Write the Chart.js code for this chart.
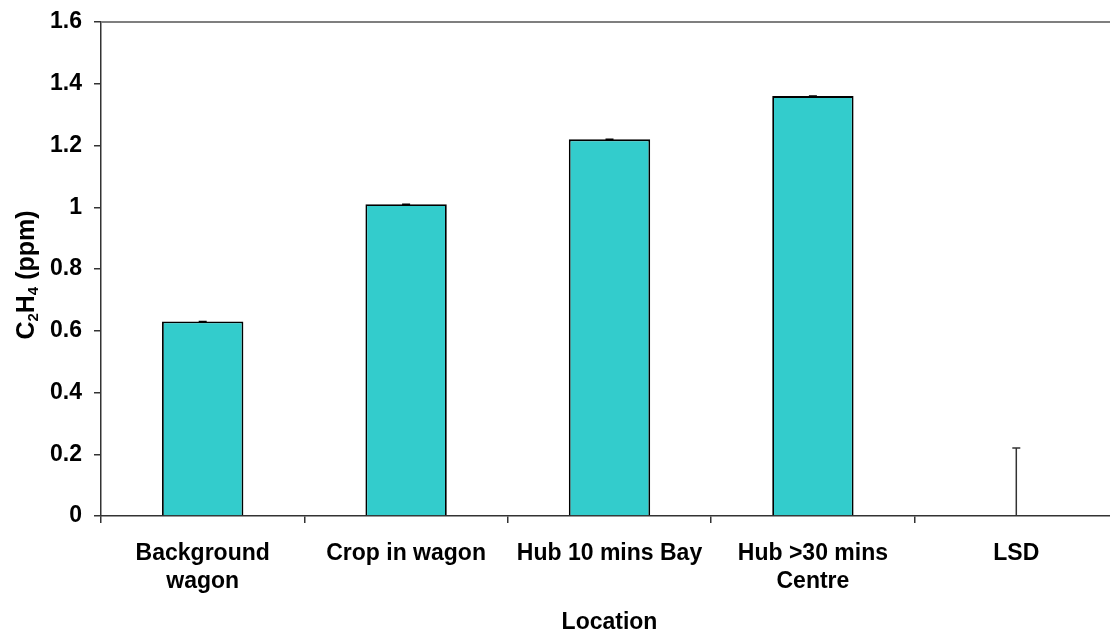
<!DOCTYPE html>
<html>
<head>
<meta charset="utf-8">
<script src="https://cdn.jsdelivr.net/npm/chart.js@4/dist/chart.umd.min.js"></script>
<style>
  html, body { margin: 0; padding: 0; background: #fff; overflow: hidden; }
  #wrap { width: 1130px; height: 634px; }
</style>
</head>
<body>
<div id="wrap"><canvas id="c" width="1130" height="634"></canvas></div>
<script>
// Ethylene concentration by sampling location
const locations = [["Background", "wagon"], "Crop in wagon", "Hub 10 mins Bay", ["Hub >30 mins", "Centre"], "LSD"];
const ethylene = [0.63, 1.01, 1.22, 1.36, null];
const errorValues = [0, 0, 0, 0, null];
const lsdValue = 0.22;
const lsdIndex = 4;
const yTicks = [0, 0.2, 0.4, 0.6, 0.8, 1, 1.2, 1.4, 1.6];

const FONT = "'Liberation Sans', Arial, Helvetica, sans-serif";
const AXIS_COLOR = '#333333';

// Error bars on each bar, plus the stand-alone LSD bar
const errorBarPlugin = {
  id: 'errorBars',
  afterDatasetsDraw(chart) {
    const ctx = chart.ctx;
    const y = chart.scales.y;
    const x = chart.scales.x;
    const meta = chart.getDatasetMeta(0);
    const cap = 4;
    ctx.save();
    ctx.strokeStyle = '#000';
    ctx.lineWidth = 1.5;
    meta.data.forEach((el, i) => {
      const v = ethylene[i], e = errorValues[i];
      if (v == null || e == null) return;
      const yTop = y.getPixelForValue(v + e);
      const yBot = y.getPixelForValue(v - e);
      ctx.beginPath();
      ctx.moveTo(el.x, yTop); ctx.lineTo(el.x, yBot);
      ctx.moveTo(el.x - cap, yTop); ctx.lineTo(el.x + cap, yTop);
      ctx.moveTo(el.x - cap, yBot); ctx.lineTo(el.x + cap, yBot);
      ctx.stroke();
    });
    // LSD
    const lx = x.getPixelForValue(lsdIndex);
    const l0 = y.getPixelForValue(0);
    const l1 = y.getPixelForValue(lsdValue);
    ctx.strokeStyle = AXIS_COLOR;
    ctx.beginPath();
    ctx.moveTo(lx, l0); ctx.lineTo(lx, l1);
    ctx.moveTo(lx - cap, l1); ctx.lineTo(lx + cap, l1);
    ctx.stroke();
    ctx.restore();
  }
};

// Top frame line and axis titles (y title carries subscripts)
const framePlugin = {
  id: 'frameAndTitles',
  afterDraw(chart) {
    const ctx = chart.ctx;
    const a = chart.chartArea;
    ctx.save();
    ctx.strokeStyle = '#7f7f7f';
    ctx.lineWidth = 2;
    ctx.beginPath();
    ctx.moveTo(a.left, a.top);
    ctx.lineTo(chart.width, a.top);
    ctx.stroke();

    // x title
    ctx.fillStyle = '#000';
    ctx.font = 'bold 23px ' + FONT;
    ctx.textAlign = 'center';
    ctx.textBaseline = 'alphabetic';
    ctx.fillText('Location', (a.left + 1118) / 2, 629);

    // y title: C2H4 (ppm) with subscript digits
    const parts = [
      { t: 'C', sub: false }, { t: '2', sub: true },
      { t: 'H', sub: false }, { t: '4', sub: true },
      { t: ' (ppm)', sub: false }
    ];
    const mainFont = 'bold 25px ' + FONT;
    const subFont = 'bold 15px ' + FONT;
    let total = 0;
    parts.forEach(p => { ctx.font = p.sub ? subFont : mainFont; p.w = ctx.measureText(p.t).width; total += p.w; });
    ctx.translate(0, 275);
    ctx.rotate(-Math.PI / 2);
    ctx.textAlign = 'left';
    let cx = -total / 2;
    parts.forEach(p => {
      ctx.font = p.sub ? subFont : mainFont;
      ctx.fillText(p.t, cx, p.sub ? 38 : 34);
      cx += p.w;
    });
    ctx.restore();
  }
};

new Chart(document.getElementById('c'), {
  type: 'bar',
  data: {
    labels: locations,
    datasets: [{
      data: ethylene,
      backgroundColor: '#33CCCC',
      borderColor: '#000000',
      borderWidth: 1.8,
      borderSkipped: 'bottom',
      barPercentage: 0.4,
      categoryPercentage: 1.0
    }]
  },
  options: {
    responsive: false,
    animation: false,
    devicePixelRatio: 1,
    layout: { padding: { top: 22, right: 12, left: 0, bottom: 0 } },
    plugins: { legend: { display: false }, tooltip: { enabled: false } },
    scales: {
      x: {
        offset: true,
        grid: { offset: true, drawOnChartArea: false, drawTicks: true, tickLength: 7, tickColor: AXIS_COLOR, lineWidth: 1.5 },
        border: { display: true, color: AXIS_COLOR, width: 1.5 },
        ticks: { color: '#000', font: { family: FONT, size: 23, weight: 'bold', lineHeight: 1.2 }, padding: 17, maxRotation: 0, autoSkip: false },
        afterFit(scale) { scale.height = 118; scale.paddingLeft = 0; scale.paddingRight = 0; }
      },
      y: {
        min: 0, max: 1.6,
        afterBuildTicks(scale) { scale.ticks = yTicks.map(v => ({ value: v })); },
        grid: { drawOnChartArea: false, drawTicks: true, tickLength: 7, tickColor: AXIS_COLOR, lineWidth: 1.5 },
        border: { display: true, color: AXIS_COLOR, width: 1.5 },
        ticks: {
          color: '#000', font: { family: FONT, size: 23, weight: 'bold' }, padding: 12,
          callback: (v) => String(Math.round(v * 10) / 10)
        },
        afterFit(scale) { scale.width = 101; scale.paddingTop = 0; scale.paddingBottom = 0; }
      }
    }
  },
  plugins: [errorBarPlugin, framePlugin]
});
</script>
</body>
</html>
